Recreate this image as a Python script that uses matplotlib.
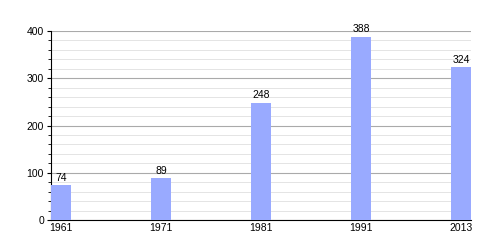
import matplotlib
matplotlib.use("Agg")
import matplotlib.pyplot as plt
import numpy as np

# data
years = ["1961", "1971", "1981", "1991", "2013"]
population = [74, 89, 248, 388, 324]

plt.rcParams['font.family'] = ['Liberation Sans', 'DejaVu Sans']

fig = plt.figure(figsize=(5, 2.5), dpi=100)
ax = fig.add_axes([0.102, 0.12, 0.84, 0.756])

x = np.arange(len(years))
bar_w = 0.2
ax.bar(x, population, width=bar_w, align='edge', color='#99aaff', zorder=3)

for xi, v in zip(x, population):
    ax.text(xi + bar_w / 2, v + 5, str(v), ha='center', va='bottom', fontsize=7.5, zorder=4)

ax.set_xlim(0, len(years) - 1 + bar_w)
ax.set_ylim(0, 400)
ax.set_xticks(x + bar_w / 2)
ax.set_xticklabels(years)
ax.set_yticks(np.arange(0, 401, 100))
ax.set_yticks(np.arange(0, 401, 20), minor=True)

ax.grid(axis='y', which='major', color='#aaaaaa', linewidth=0.8, zorder=0)
ax.grid(axis='y', which='minor', color='#e4e4e4', linewidth=0.7, zorder=0)

ax.tick_params(axis='x', length=0, labelsize=7.5, pad=2)
ax.tick_params(axis='y', which='major', length=3, labelsize=7.5, pad=2, direction='out')
ax.tick_params(axis='y', which='minor', length=2, direction='out')

for s in ['top', 'right']:
    ax.spines[s].set_visible(False)
ax.spines['left'].set_linewidth(0.8)
ax.spines['bottom'].set_linewidth(0.8)

fig.savefig("out.png", dpi=100)
